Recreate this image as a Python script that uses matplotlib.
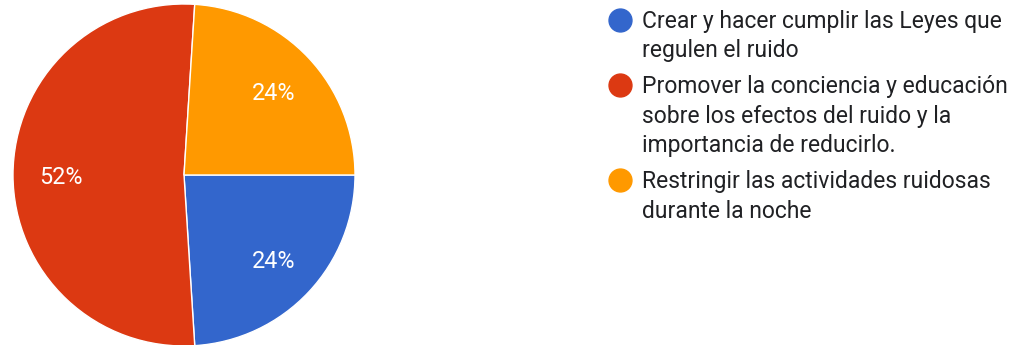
import matplotlib
matplotlib.use('Agg')
import matplotlib.pyplot as plt
from matplotlib.lines import Line2D

plt.rcParams['font.family'] = ['Roboto', 'DejaVu Sans']

# respuestas de la encuesta (25 respuestas)
categorias = [
    'Crear y hacer cumplir las Leyes que\nregulen el ruido',
    'Promover la conciencia y educación\nsobre los efectos del ruido y la\nimportancia de reducirlo.',
    'Restringir las actividades ruidosas\ndurante la noche',
]
respuestas = [6, 13, 6]
colores = ['#3366cc', '#dc3912', '#ff9900']

W, H = 1027, 345
fig = plt.figure(figsize=(W / 100, H / 100), dpi=100)
fig.patch.set_facecolor('white')

# pie: centro (184, 175) px, radio 171 px
cx, cy, r = 184, 175, 171
ax = fig.add_axes([(cx - r) / W, (H - cy - r) / H, 2 * r / W, 2 * r / H])
_, _, pcts = ax.pie(
    respuestas,
    colors=colores,
    startangle=0,
    counterclock=False,
    autopct='%1.0f%%',
    pctdistance=0.72,
    wedgeprops={'edgecolor': 'white', 'linewidth': 1},
    textprops={'color': 'white', 'fontsize': 16.8},
)
for t in pcts:
    t.set_va('center_baseline')
ax.set_xlim(-1, 1)
ax.set_ylim(-1, 1)
ax.set_aspect('equal')
ax.axis('off')

# leyenda a la derecha, dibujada a mano para controlar el interlineado
x_marca, x_texto = 620, 642
y = 19.5
paso_linea, paso_item = 29.5, 36
for etiqueta, color in zip(categorias, colores):
    fig.add_artist(Line2D([x_marca / W], [1 - y / H], marker='o', markersize=16.5,
                          color=color, linestyle='none',
                          transform=fig.transFigure))
    lineas = etiqueta.split('\n')
    for i, linea in enumerate(lineas):
        # línea base ~8 px por debajo del centro de las mayúsculas
        fig.text(x_texto / W, 1 - (y + i * paso_linea + 8.2) / H, linea,
                 fontsize=16.5, color='#202124', va='baseline', ha='left')
    y += (len(lineas) - 1) * paso_linea + paso_item

fig.savefig('out.png', dpi=100)
